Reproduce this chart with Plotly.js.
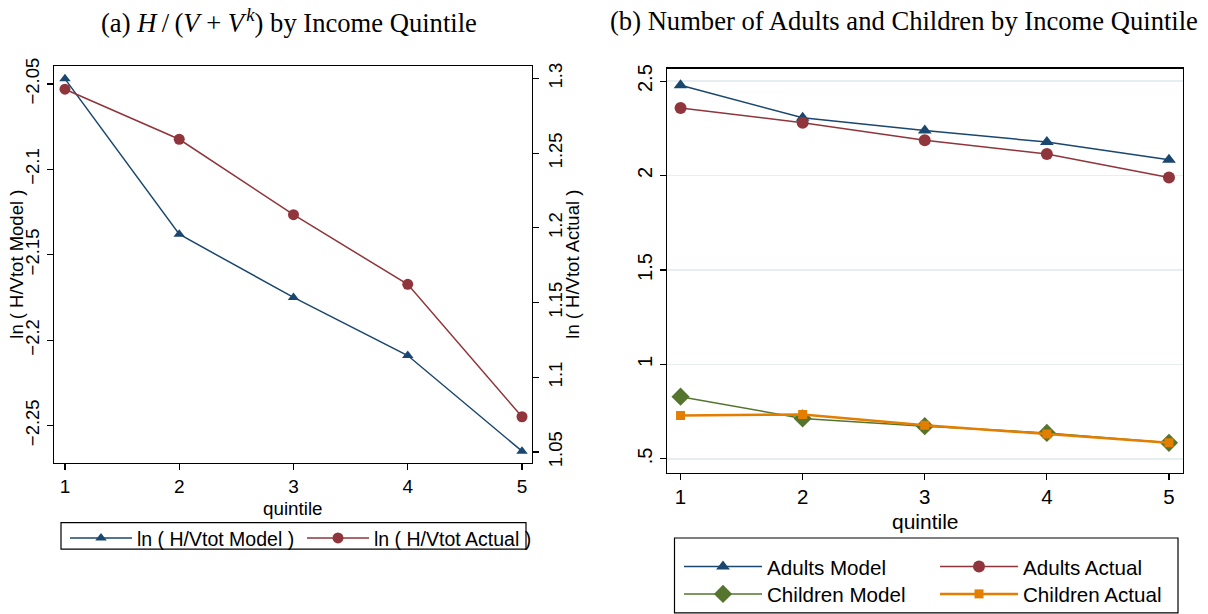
<!DOCTYPE html>
<html>
<head>
<meta charset="utf-8">
<script src="https://cdn.plot.ly/plotly-3.0.1.min.js"></script>
<style>html,body{margin:0;padding:0;background:#fff;}#chart{width:1208px;height:614px;}</style>
</head>
<body>
<div id="chart"></div>
<script>
// ---- data ----
const quintiles = [1, 2, 3, 4, 5];
const lnModel = [-2.047, -2.138, -2.175, -2.209, -2.265];
const lnActual = [1.2928, 1.2593, 1.2088, 1.1622, 1.0736];
const adultsModel = [2.478, 2.306, 2.239, 2.177, 2.083];
const adultsActual = [2.358, 2.280, 2.187, 2.114, 1.990];
const childrenModel = [0.829, 0.714, 0.673, 0.637, 0.585];
const childrenActual = [0.730, 0.735, 0.678, 0.631, 0.585];

const leftYTicks = [-2.25, -2.2, -2.15, -2.1, -2.05];
const leftYTickText = ['\u22122.25', '\u22122.2', '\u22122.15', '\u22122.1', '\u22122.05'];
const rightYTicks = [1.05, 1.1, 1.15, 1.2, 1.25, 1.3];
const rightYTickText = ['1.05', '1.1', '1.15', '1.2', '1.25', '1.3'];
const bYTicks = [0.5, 1, 1.5, 2, 2.5];
const bYTickText = ['.5', '1', '1.5', '2', '2.5'];

const NAVY = '#1a476f', MAROON = '#90353b', GREEN = '#55752f', ORANGE = '#e37e00';
const W = 1208, H = 614;
const px = v => v / W, py = v => 1 - v / H;
const SANS = 'Liberation Sans, Arial, sans-serif';
const SERIF = 'Liberation Serif, Times New Roman, serif';

const traces = [
  {x: quintiles, y: lnModel, xaxis: 'x', yaxis: 'y', mode: 'lines+markers', name: 'ln ( H/Vtot Model )',
   line: {color: NAVY, width: 1.5}, marker: {symbol: 'triangle-up', size: 10, color: NAVY}, legend: 'legend'},
  {x: quintiles, y: lnActual, xaxis: 'x', yaxis: 'y2', mode: 'lines+markers', name: 'ln ( H/Vtot Actual )',
   line: {color: MAROON, width: 1.5}, marker: {symbol: 'circle', size: 11, color: MAROON}, legend: 'legend2'},
  {x: quintiles, y: adultsModel, xaxis: 'x2', yaxis: 'y3', mode: 'lines+markers', name: 'Adults Model',
   line: {color: NAVY, width: 1.5}, marker: {symbol: 'triangle-up', size: 12, color: NAVY}, legend: 'legend3'},
  {x: quintiles, y: adultsActual, xaxis: 'x2', yaxis: 'y3', mode: 'lines+markers', name: 'Adults Actual',
   line: {color: MAROON, width: 1.5}, marker: {symbol: 'circle', size: 12, color: MAROON}, legend: 'legend4'},
  {x: quintiles, y: childrenModel, xaxis: 'x2', yaxis: 'y3', mode: 'lines+markers', name: 'Children Model',
   line: {color: GREEN, width: 1.5}, marker: {symbol: 'diamond', size: 14, color: GREEN}, legend: 'legend5'},
  {x: quintiles, y: childrenActual, xaxis: 'x2', yaxis: 'y3', mode: 'lines+markers', name: 'Children Actual',
   line: {color: ORANGE, width: 2.5}, marker: {symbol: 'square', size: 9, color: ORANGE}, legend: 'legend6'}
];

function leg(x, y, size, iw) {
  return {x: px(x), y: py(y), xanchor: 'left', yanchor: 'middle', orientation: 'h',
    bgcolor: 'rgba(0,0,0,0)', borderwidth: 0, itemwidth: iw,
    font: {family: SANS, size: size, color: '#000'}};
}

const axBase = {showgrid: false, zeroline: false, showline: true, linecolor: '#000', linewidth: 1.3,
  ticks: 'outside', ticklen: 6, tickcolor: '#000', tickwidth: 1.2};

const layout = {
  width: W, height: H, margin: {l: 0, r: 0, t: 0, b: 0},
  paper_bgcolor: '#fff', plot_bgcolor: '#fff', showlegend: true,
  xaxis: Object.assign({}, axBase, {domain: [px(54), px(532)], range: [0.904, 5.0875], anchor: 'y',
    tickvals: quintiles, mirror: true, tickfont: {family: SANS, size: 19, color: '#000'}}),
  yaxis: Object.assign({}, axBase, {domain: [py(472), py(67.5)], range: [-2.2718, -2.0396], anchor: 'x',
    tickvals: leftYTicks, ticktext: leftYTickText, tickangle: -90, tickfont: {family: SANS, size: 18.5, color: '#000'}}),
  yaxis2: Object.assign({}, axBase, {overlaying: 'y', side: 'right', anchor: 'x', range: [1.0428, 1.3082],
    tickvals: rightYTicks, ticktext: rightYTickText, tickangle: -90, tickfont: {family: SANS, size: 18.5, color: '#000'}}),
  xaxis2: Object.assign({}, axBase, {domain: [px(667), px(1183)], range: [0.889, 5.115], anchor: 'y3',
    tickvals: quintiles, mirror: true, tickfont: {family: SANS, size: 20.5, color: '#000'}}),
  yaxis3: Object.assign({}, axBase, {domain: [py(482), py(70)], range: [0.4273, 2.566], anchor: 'x2',
    tickvals: bYTicks, ticktext: bYTickText, tickangle: -90, mirror: true,
    showgrid: true, gridcolor: '#e6eef0', gridwidth: 1.5,
    tickfont: {family: SANS, size: 20, color: '#000'}}),
  legend: leg(65, 549, 19.5, 62),
  legend2: leg(302, 549, 19.5, 62),
  legend3: leg(679, 578, 20.6, 78),
  legend4: leg(935, 578, 20.6, 78),
  legend5: leg(679, 606, 20.6, 78),
  legend6: leg(935, 606, 20.6, 78),
  shapes: [
    {type: 'rect', xref: 'paper', yref: 'paper', x0: px(61), x1: px(526), y0: py(560), y1: py(533),
     line: {color: '#000', width: 1.2}, fillcolor: 'rgba(0,0,0,0)'},
    {type: 'rect', xref: 'paper', yref: 'paper', x0: px(674.5), x1: px(1178), y0: py(625), y1: py(548.7),
     line: {color: '#000', width: 1.2}, fillcolor: 'rgba(0,0,0,0)'}
  ],
  annotations: [
    {text: '(a) <i>H</i>\u2009/\u2009(<i>V</i> + <i>V</i>\u200a<sup><i>k</i></sup>) by Income Quintile', xref: 'paper', yref: 'paper',
     x: px(289), y: py(21), xanchor: 'center', yanchor: 'middle', showarrow: false,
     font: {family: SERIF, size: 26.6, color: '#000'}},
    {text: '(b) Number of Adults and Children by Income Quintile', xref: 'paper', yref: 'paper',
     x: px(904), y: py(21), xanchor: 'center', yanchor: 'middle', showarrow: false,
     font: {family: SERIF, size: 26.6, color: '#000'}},
    {text: 'ln ( H/Vtot Model )', xref: 'paper', yref: 'paper', x: px(17), y: py(270), textangle: -90,
     xanchor: 'center', yanchor: 'middle', showarrow: false, font: {family: SANS, size: 18.5, color: '#000'}},
    {text: 'ln ( H/Vtot Actual )', xref: 'paper', yref: 'paper', x: px(573), y: py(270), textangle: -90,
     xanchor: 'center', yanchor: 'middle', showarrow: false, font: {family: SANS, size: 18.5, color: '#000'}},
    {text: 'quintile', xref: 'paper', yref: 'paper', x: px(293), y: py(519),
     xanchor: 'center', yanchor: 'middle', showarrow: false, font: {family: SANS, size: 18.8, color: '#000'}},
    {text: 'quintile', xref: 'paper', yref: 'paper', x: px(925), y: py(532),
     xanchor: 'center', yanchor: 'middle', showarrow: false, font: {family: SANS, size: 21, color: '#000'}}
  ]
};

Plotly.newPlot('chart', traces, layout, {displayModeBar: false, staticPlot: true});
</script>
</body>
</html>
